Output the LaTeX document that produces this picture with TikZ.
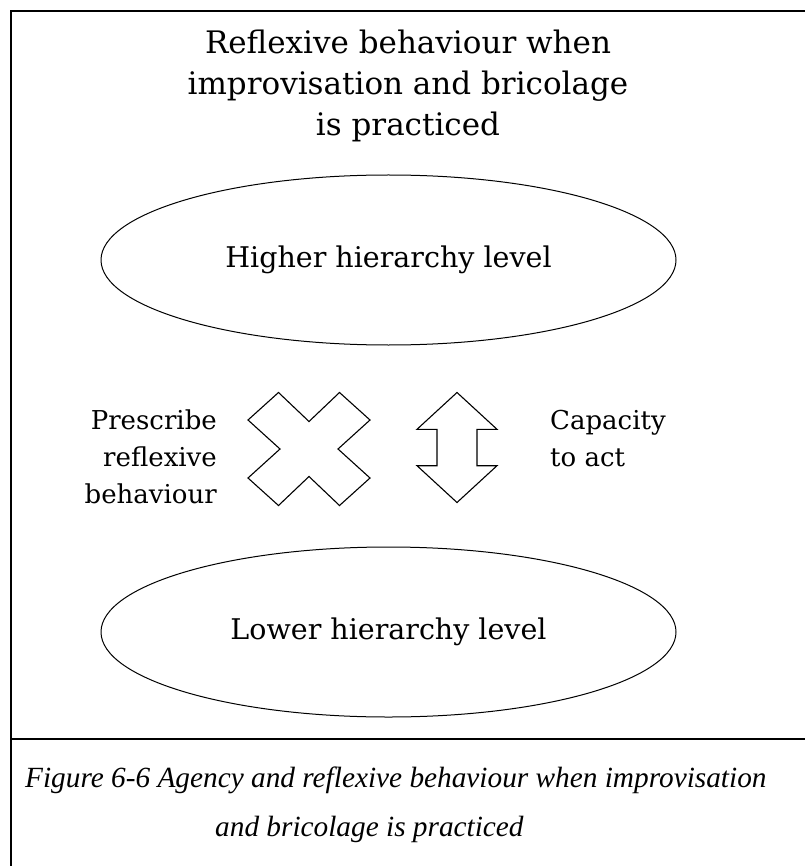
\documentclass[tikz,border=0pt]{standalone}
\usepackage{fontspec}
\setmainfont{DejaVu Serif}
\newfontfamily\capfont{Liberation Serif}
\usetikzlibrary{shapes.geometric}

\tikzset{
  frameline/.style={line width=2.8pt},
  level/.style={draw, ellipse, line width=1pt, minimum width=575pt, minimum height=170pt, inner sep=0pt,
                font=\fontsize{28.5}{34}\selectfont},
  shapeline/.style={draw, line width=1.1pt, line join=miter},
  sidelabel/.style={inner sep=0pt, font=\fontsize{26}{37}\selectfont},
  captext/.style={inner sep=0pt, anchor=west, font=\capfont\itshape\fontsize{29.3}{34}\selectfont}
}

\begin{document}
\begin{tikzpicture}[x=1pt,y=-1pt]
  \useasboundingbox (0,0) rectangle (805,866);

  % frame and caption separator
  \coordinate (fbl) at (11,866);
  \coordinate (ftl) at (11,11);
  \coordinate (ftr) at (805,11);
  \coordinate (sl) at (11,739);
  \coordinate (sr) at (805,739);
  \draw[frameline] (fbl) -- (ftl) -- (ftr);
  \draw[frameline] (sl) -- (sr);

  % title
  \node[inner sep=0pt, align=center, font=\fontsize{31}{41}\selectfont] (title) at (408,86)
    {Reflexive behaviour when\\improvisation and bricolage\\is practiced};

  % hierarchy levels
  \node[level] (high) at (388.5,260) {Higher hierarchy level};
  \node[level] (low) at (388.5,632) {Lower hierarchy level};

  % cross
  \coordinate (cross) at (309,449);
  \draw[shapeline, shift={(cross)}]
    (-30.5,-56.5) -- (0,-27.5) -- (30.5,-56.5) -- (61,-29) -- (29,0) -- (61,29)
    -- (30.5,56.5) -- (0,27.5) -- (-30.5,56.5) -- (-61,29) -- (-29,0) -- (-61,-29) -- cycle;

  % double-headed arrow
  \coordinate (updown) at (457,447.5);
  \draw[shapeline, shift={(updown)}]
    (0,-55) -- (40,-18.2) -- (20,-18.2) -- (20,18.2) -- (40,18.2) -- (0,55)
    -- (-40,18.2) -- (-20,18.2) -- (-20,-18.2) -- (-40,-18.2) -- cycle;

  % side labels
  \node[sidelabel, align=right, anchor=east] (prescribe) at (217,457)
    {Prescribe\\reflexive\\behaviour};
  \node[sidelabel, align=left, anchor=west] (capacity) at (550,439)
    {Capacity\\to act};

  % caption
  \node[captext] (cap1) at (25,780)
    {Figure 6-6 Agency and reflexive behaviour when improvisation};
  \node[captext] (cap2) at (215,829)
    {and bricolage is practiced};
\end{tikzpicture}
\end{document}
